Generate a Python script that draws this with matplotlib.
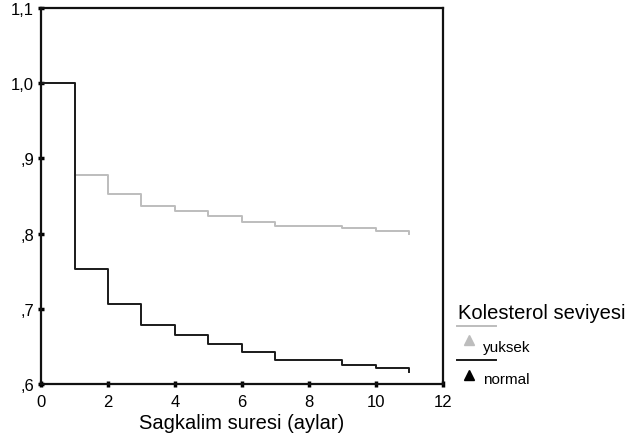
import numpy as np
import matplotlib.pyplot as plt
from matplotlib.lines import Line2D

plt.rcParams['font.family'] = ['Liberation Sans', 'DejaVu Sans']

# survival times (months) and step values
zaman = [0, 1, 2, 3, 4, 5, 6, 7, 9, 10, 11]
normal = [1.0, 0.753, 0.707, 0.679, 0.665, 0.653, 0.642, 0.632, 0.625, 0.621, 0.616]
yuksek = [1.0, 0.878, 0.853, 0.837, 0.830, 0.824, 0.816, 0.810, 0.807, 0.803, 0.800]

xticks = [0, 2, 4, 6, 8, 10, 12]
yticks = [0.6, 0.7, 0.8, 0.9, 1.0, 1.1]
ylabels = [',6', ',7', ',8', ',9', '1,0', '1,1']

fig = plt.figure(figsize=(6.43, 4.35), dpi=100)
ax = fig.add_axes([0.0638, 0.115, 0.625, 0.864])

ax.plot(zaman, yuksek, drawstyle='steps-post', color='#bdbdbd', lw=1.4)
ax.plot(zaman, normal, drawstyle='steps-post', color='#1a1a1a', lw=1.4)

ax.set_xlim(0, 12)
ax.set_ylim(0.6, 1.1)
ax.set_xticks(xticks)
ax.set_yticks(yticks)
ax.set_yticklabels(ylabels)
ax.tick_params(direction='inout', length=4, width=2.5, labelsize=12, color='black')
ax.tick_params(axis='x', pad=5)
ax.tick_params(axis='y', pad=3)
for s in ax.spines.values():
    s.set_linewidth(1.6)
    s.set_color('#111111')
ax.set_xlabel('Sagkalim suresi (aylar)', fontsize=14.5, labelpad=3)

# legend drawn by hand to match the SPSS layout
fig.text(0.712, 0.280, 'Kolesterol seviyesi', fontsize=14.5, va='center')
fig.add_artist(Line2D([0.711, 0.771], [0.248, 0.248], color='#bdbdbd', lw=1.4))
fig.add_artist(Line2D([0.730], [0.216], marker='^', color='#bdbdbd', ms=7, ls=''))
fig.text(0.751, 0.200, 'yuksek', fontsize=11, va='center')
fig.add_artist(Line2D([0.711, 0.771], [0.170, 0.170], color='#1a1a1a', lw=1.4))
fig.add_artist(Line2D([0.730], [0.136], marker='^', color='black', ms=7, ls=''))
fig.text(0.751, 0.126, 'normal', fontsize=11, va='center')

fig.savefig('out.png', dpi=100)
